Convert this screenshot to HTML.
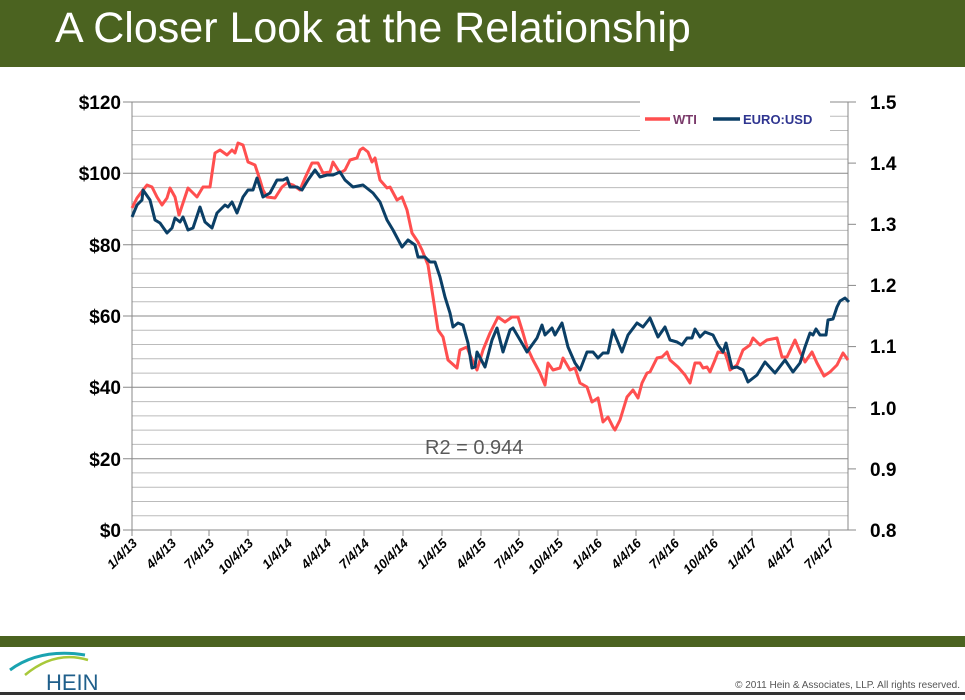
<!DOCTYPE html>
<html><head><meta charset="utf-8"><style>
body{margin:0;width:965px;height:695px;overflow:hidden;background:#fff;font-family:"Liberation Sans",sans-serif}
</style></head><body>
<svg width="965" height="695" xmlns="http://www.w3.org/2000/svg" font-family="Liberation Sans, sans-serif">
<rect x="0" y="0" width="965" height="67" fill="#4b6320"/>
<text x="55" y="42" font-size="43" fill="#fff">A Closer Look at the Relationship</text>
<g id="grid" stroke-width="1">
<line x1="132" x2="848" y1="116.3" y2="116.3" stroke="#bbb"/><line x1="132" x2="848" y1="130.5" y2="130.5" stroke="#bbb"/><line x1="132" x2="848" y1="144.8" y2="144.8" stroke="#bbb"/><line x1="132" x2="848" y1="159.1" y2="159.1" stroke="#bbb"/>
<line x1="132" x2="848" y1="187.6" y2="187.6" stroke="#bbb"/><line x1="132" x2="848" y1="201.9" y2="201.9" stroke="#bbb"/><line x1="132" x2="848" y1="216.1" y2="216.1" stroke="#bbb"/><line x1="132" x2="848" y1="230.4" y2="230.4" stroke="#bbb"/>
<line x1="132" x2="848" y1="258.9" y2="258.9" stroke="#bbb"/><line x1="132" x2="848" y1="273.2" y2="273.2" stroke="#bbb"/><line x1="132" x2="848" y1="287.5" y2="287.5" stroke="#bbb"/><line x1="132" x2="848" y1="301.7" y2="301.7" stroke="#bbb"/>
<line x1="132" x2="848" y1="330.3" y2="330.3" stroke="#bbb"/><line x1="132" x2="848" y1="344.5" y2="344.5" stroke="#bbb"/><line x1="132" x2="848" y1="358.8" y2="358.8" stroke="#bbb"/><line x1="132" x2="848" y1="373.1" y2="373.1" stroke="#bbb"/>
<line x1="132" x2="848" y1="401.6" y2="401.6" stroke="#bbb"/><line x1="132" x2="848" y1="415.9" y2="415.9" stroke="#bbb"/><line x1="132" x2="848" y1="430.1" y2="430.1" stroke="#bbb"/><line x1="132" x2="848" y1="444.4" y2="444.4" stroke="#bbb"/>
<line x1="132" x2="848" y1="472.9" y2="472.9" stroke="#bbb"/><line x1="132" x2="848" y1="487.2" y2="487.2" stroke="#bbb"/><line x1="132" x2="848" y1="501.5" y2="501.5" stroke="#bbb"/><line x1="132" x2="848" y1="515.7" y2="515.7" stroke="#bbb"/>
<line x1="123" x2="848" y1="102" y2="102" stroke="#888"/><line x1="123" x2="848" y1="173.3" y2="173.3" stroke="#888"/><line x1="123" x2="848" y1="244.7" y2="244.7" stroke="#888"/><line x1="123" x2="848" y1="316" y2="316" stroke="#888"/><line x1="123" x2="848" y1="387.3" y2="387.3" stroke="#888"/><line x1="123" x2="848" y1="458.7" y2="458.7" stroke="#888"/><line x1="123" x2="848" y1="530" y2="530" stroke="#888"/>
</g>
<line x1="132" x2="132" y1="102" y2="530" stroke="#888"/>
<line x1="848" x2="848" y1="102" y2="530" stroke="#888"/>
<g stroke="#888">
<line x1="848" x2="856" y1="102" y2="102"/><line x1="848" x2="856" y1="163.1" y2="163.1"/><line x1="848" x2="856" y1="224.3" y2="224.3"/><line x1="848" x2="856" y1="285.4" y2="285.4"/><line x1="848" x2="856" y1="346.6" y2="346.6"/><line x1="848" x2="856" y1="407.7" y2="407.7"/><line x1="848" x2="856" y1="468.9" y2="468.9"/><line x1="848" x2="856" y1="530" y2="530"/>
</g>
<g font-size="19" font-weight="bold" fill="#000" text-anchor="end">
<text x="121" y="109">$120</text><text x="121" y="180">$100</text><text x="121" y="252">$80</text><text x="121" y="323">$60</text><text x="121" y="394">$40</text><text x="121" y="466">$20</text><text x="121" y="537">$0</text>
</g>
<g font-size="19" font-weight="bold" fill="#000">
<text x="870" y="109">1.5</text><text x="870" y="170">1.4</text><text x="870" y="231">1.3</text><text x="870" y="292">1.2</text><text x="870" y="353">1.1</text><text x="870" y="415">1.0</text><text x="870" y="476">0.9</text><text x="870" y="537">0.8</text>
</g>
<rect x="640" y="100" width="190" height="32" fill="#fff"/>
<line x1="645" x2="670" y1="119" y2="119" stroke="#ff4f4f" stroke-width="3.5"/>
<text x="673" y="124" font-size="13" font-weight="bold" fill="#7a3a6a">WTI</text>
<line x1="713" x2="740" y1="119" y2="119" stroke="#0b3f66" stroke-width="3.5"/>
<text x="743" y="124" font-size="13" font-weight="bold" fill="#2f3590">EURO:USD</text>
<polyline fill="none" stroke="#ff4f4f" stroke-width="3" stroke-linejoin="round" points="132,208 137,198 143,190 147,185 152,187 157,197 162,205 167,198 170,188 175,197 179,215 183,203 188,188 197,197 203,187 210,187 215,153 220,150 227,155 232,150 235,153 238,143 243,145 248,162 255,165 260,180 263,190 267,197 275,198 282,187 287,183 293,185 300,190 305,178 312,163 318,163 323,173 330,172 333,162 340,173 345,170 350,160 357,158 360,150 363,148 368,152 372,162 375,158 380,180 387,188 390,187 397,200 402,197 407,210 412,233 418,242 422,250 428,265 433,297 438,330 443,337 448,360 457,368 460,350 467,347 470,355 477,370 483,350 490,333 498,317 505,322 512,317 518,317 523,333 527,347 533,360 540,373 545,385 548,363 553,370 560,368 563,358 570,370 575,368 580,383 587,387 592,402 598,398 603,422 608,417 613,427 615,430 620,420 627,397 633,390 638,398 642,383 647,373 650,372 657,358 662,357 667,352 670,360 678,367 685,375 690,383 695,363 700,363 703,368 707,367 710,372 715,360 718,352 725,353 728,362 730,370 737,365 743,350 750,345 753,338 760,345 767,340 777,338 782,357 787,357 795,340 800,352 805,362 812,352 817,363 824,376 830,372 837,365 843,353 848,360"/>
<polyline fill="none" stroke="#0b3f66" stroke-width="3" stroke-linejoin="round" points="132,217 137,205 142,200 143,190 150,200 155,220 160,223 167,233 172,228 175,218 180,222 183,217 188,230 193,228 200,207 205,222 212,228 217,213 225,205 228,207 232,202 237,213 243,197 248,190 253,190 257,178 263,197 270,193 277,180 283,180 287,178 290,187 297,187 302,190 308,180 315,170 320,177 327,175 333,175 340,172 345,180 353,187 363,185 373,193 380,202 387,220 393,230 402,247 408,240 415,245 418,257 425,257 430,262 435,262 440,277 445,297 450,313 453,327 458,323 463,325 468,343 472,368 475,367 477,352 485,367 492,340 497,328 503,352 510,330 513,328 523,345 527,352 532,345 537,338 542,325 545,335 552,328 555,335 562,323 568,347 575,363 580,370 587,352 593,352 598,358 603,353 608,353 613,330 622,352 628,335 637,323 643,327 650,318 658,337 665,327 670,340 677,342 682,345 687,338 692,338 695,329 700,337 705,332 713,335 718,345 723,352 726,343 732,368 737,367 743,370 748,382 757,375 765,362 775,373 785,360 793,372 800,363 805,347 810,333 813,335 816,329 820,335 826,335 828,320 833,319 837,307 840,301 845,298 849,302"/>
<text x="425" y="454" font-size="20" fill="#595959">R2 = 0.944</text>
<g font-size="13" font-weight="bold" font-style="italic" fill="#000" text-anchor="end">
<g transform="translate(138,544) rotate(-45)"><text>1/4/13</text></g>
<g transform="translate(177,544) rotate(-45)"><text>4/4/13</text></g>
<g transform="translate(215,544) rotate(-45)"><text>7/4/13</text></g>
<g transform="translate(254,544) rotate(-45)"><text>10/4/13</text></g>
<g transform="translate(293,544) rotate(-45)"><text>1/4/14</text></g>
<g transform="translate(332,544) rotate(-45)"><text>4/4/14</text></g>
<g transform="translate(370,544) rotate(-45)"><text>7/4/14</text></g>
<g transform="translate(409,544) rotate(-45)"><text>10/4/14</text></g>
<g transform="translate(448,544) rotate(-45)"><text>1/4/15</text></g>
<g transform="translate(487,544) rotate(-45)"><text>4/4/15</text></g>
<g transform="translate(525,544) rotate(-45)"><text>7/4/15</text></g>
<g transform="translate(564,544) rotate(-45)"><text>10/4/15</text></g>
<g transform="translate(603,544) rotate(-45)"><text>1/4/16</text></g>
<g transform="translate(642,544) rotate(-45)"><text>4/4/16</text></g>
<g transform="translate(680,544) rotate(-45)"><text>7/4/16</text></g>
<g transform="translate(719,544) rotate(-45)"><text>10/4/16</text></g>
<g transform="translate(758,544) rotate(-45)"><text>1/4/17</text></g>
<g transform="translate(797,544) rotate(-45)"><text>4/4/17</text></g>
<g transform="translate(835,544) rotate(-45)"><text>7/4/17</text></g>
</g>
<g stroke="#888">
<line x1="132" x2="132" y1="530" y2="536"/><line x1="171" x2="171" y1="530" y2="536"/><line x1="209" x2="209" y1="530" y2="536"/><line x1="248" x2="248" y1="530" y2="536"/><line x1="287" x2="287" y1="530" y2="536"/><line x1="326" x2="326" y1="530" y2="536"/><line x1="364" x2="364" y1="530" y2="536"/><line x1="403" x2="403" y1="530" y2="536"/><line x1="442" x2="442" y1="530" y2="536"/><line x1="481" x2="481" y1="530" y2="536"/><line x1="519" x2="519" y1="530" y2="536"/><line x1="558" x2="558" y1="530" y2="536"/><line x1="597" x2="597" y1="530" y2="536"/><line x1="636" x2="636" y1="530" y2="536"/><line x1="674" x2="674" y1="530" y2="536"/><line x1="713" x2="713" y1="530" y2="536"/><line x1="752" x2="752" y1="530" y2="536"/><line x1="791" x2="791" y1="530" y2="536"/><line x1="829" x2="829" y1="530" y2="536"/>
</g>
<rect x="0" y="636" width="965" height="11" fill="#4b6320"/>
<path d="M10,670 Q40,648 85,655" stroke="#1aa3b0" stroke-width="3" fill="none"/>
<path d="M25,675 Q55,650 88,660" stroke="#a8c83a" stroke-width="2.5" fill="none"/>
<text x="46" y="690" font-size="22" fill="#1f5f8b">HEIN</text>
<text x="960" y="688" font-size="10" fill="#555" text-anchor="end">© 2011 Hein &amp; Associates, LLP.  All rights reserved.</text>
<rect x="0" y="692" width="965" height="3" fill="#333"/>
</svg>
</body></html>
